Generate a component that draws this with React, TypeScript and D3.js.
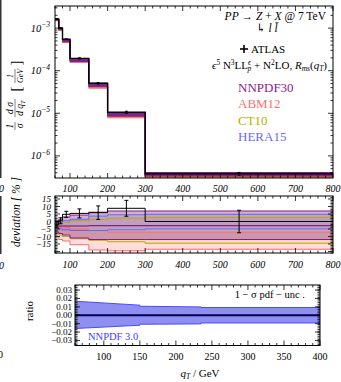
import React from 'react';
import * as d3 from 'd3';

// ATLAS Z pT bins (GeV)
const binEdges = [60, 70, 80, 100, 150, 200, 300, 800];
const atlasXsec = [1.62e-3, 1.0e-3, 5.5e-4, 1.95e-4, 5.07e-5, 1.06e-5, 3.8e-7];
const atlasDev = [-2.3, 0.5, 4.8, 5.4, 5.9, 8.8, 0];
const atlasErr = [2, 2, 2, 3, 4.5, 5.3, 7.5];

// pdf bands, deviation in %
const nnpdfLo = [-7, -8, -9, -11, -12, -12, -12];
const nnpdfHi = [0.5, 1.5, 3, 4.3, 6.2, 7, 7];
const nnpdfMid = [-3, -3, -3, -3, -2.8, -2.8, -2.8];
const heraLo = [-4.5, -5, -5.5, -6, -6, -5.5, -5];
const heraHi = [-1, -0.5, 0.5, 1.5, 3.6, 4.5, 4.8];
const ct10Lo = [-8, -9, -10, -11.5, -12.5, -13.5, -14.5];
const ct10Hi = [-1.5, -1, -0.5, 0.5, 1.5, 2.3, 2.8];
const abmLo = [-10, -12, -13, -15.5, -19, -19.5, -18.5];
const abmHi = [-3, -3.5, -4, -5, -6, -7, -7];

// 1-sigma pdf uncertainty (NNPDF 3.0)
const uncQ = [60, 150, 150, 235, 235, 400];
const uncUp = [0.0167, 0.0120, 0.0107, 0.0099, 0.0092, 0.0092];
const uncDn = [-0.0158, -0.0119, -0.0107, -0.0103, -0.0092, -0.0092];

const devTicks = [15, 10, 5, 0, -5, -10, -15];
const ratioTicks = [0.03, 0.02, 0.01, 0, -0.01, -0.02, -0.03];

const pdfSets = [
  { name: 'ABM12', lo: abmLo, hi: abmHi, stroke: '#ff6a6a', fill: 'rgba(255,120,120,0.25)', topFill: 'rgba(255,110,110,0.8)' },
  { name: 'CT10', lo: ct10Lo, hi: ct10Hi, stroke: '#b8a800', fill: 'rgba(190,175,0,0.12)', topFill: 'rgba(190,175,0,0.6)' },
  { name: 'HERA15', lo: heraLo, hi: heraHi, stroke: '#6464ff', fill: 'rgba(90,90,255,0.12)', topFill: 'rgba(90,90,255,0.6)' },
  { name: 'NNPDF30', lo: nnpdfLo, hi: nnpdfHi, stroke: '#8a1a8a', fill: 'rgba(125,40,125,0.36)', topFill: 'rgba(125,20,135,0.85)' },
];
const legendColors = ['#8b1a8b', '#ff7070', '#b8b000', '#6a6aff'];
const legendNames = ['NNPDF30', 'ABM12', 'CT10', 'HERA15'];

const serif = '"Liberation Serif", "DejaVu Serif", serif';

const App = () => {
  const W = 341, H = 382;
  const x = d3.scaleLinear().domain([60, 800]).range([55, 333]);
  const y = d3.scaleLog().domain([Math.pow(10, -6.52), Math.pow(10, -2.48)]).range([178, 6]);
  const yd = d3.scaleLinear().domain([-21, 17]).range([253, 196]);
  const xr = d3.scaleLinear().domain([60, 400]).range([75, 320]);
  const yr = d3.scaleLinear().domain([-0.036, 0.036]).range([345.5, 285]);

  const n = atlasXsec.length;
  const idx = (i: number) => Math.min(i, n - 1);
  const ref = atlasXsec.map((v, i) => v / (1 + atlasDev[i] / 100));

  const bandPts = (lo: number[], hi: number[]) =>
    binEdges.map((e, i) => ({ q: e, lo: lo[idx(i)], hi: hi[idx(i)], r: ref[idx(i)] }));
  const stepPts = (vals: number[]) => binEdges.map((e, i) => ({ q: e, v: vals[idx(i)] }));

  const topArea = d3.area<any>().x(d => x(d.q)).y0(d => y(d.r * (1 + d.lo / 100))).y1(d => y(d.r * (1 + d.hi / 100))).curve(d3.curveStepAfter);
  const topLo = d3.line<any>().x(d => x(d.q)).y(d => y(d.r * (1 + d.lo / 100))).curve(d3.curveStepAfter);
  const topHi = d3.line<any>().x(d => x(d.q)).y(d => y(d.r * (1 + d.hi / 100))).curve(d3.curveStepAfter);
  const topData = d3.line<any>().x(d => x(d.q)).y(d => y(d.v)).curve(d3.curveStepAfter);

  const devArea = d3.area<any>().x(d => x(d.q)).y0(d => yd(d.lo)).y1(d => yd(d.hi)).curve(d3.curveStepAfter);
  const devLo = d3.line<any>().x(d => x(d.q)).y(d => yd(d.lo)).curve(d3.curveStepAfter);
  const devHi = d3.line<any>().x(d => x(d.q)).y(d => yd(d.hi)).curve(d3.curveStepAfter);
  const devStep = d3.line<any>().x(d => x(d.q)).y(d => yd(d.v)).curve(d3.curveStepAfter);

  const uncPts = uncQ.map((q, i) => ({ q, up: uncUp[i], dn: uncDn[i] }));
  const uncArea = d3.area<any>().x(d => xr(d.q)).y0(d => yr(d.dn)).y1(d => yr(d.up));
  const uncUpLine = d3.line<any>().x(d => xr(d.q)).y(d => yr(d.up));
  const uncDnLine = d3.line<any>().x(d => xr(d.q)).y(d => yr(d.dn));

  const binCenters = atlasXsec.map((_, i) => (binEdges[i] + binEdges[i + 1]) / 2);

  // frame ticks on all four sides, pointing inwards
  const xTicks = (sc: any, top: number, bottom: number, major: number[], minor: number[], key: string) => (
    <g key={key} stroke="#000" strokeWidth={0.8}>
      {major.map(t => (
        <g key={'M' + t}>
          <line x1={sc(t)} x2={sc(t)} y1={bottom} y2={bottom - 5} />
          <line x1={sc(t)} x2={sc(t)} y1={top} y2={top + 5} />
        </g>
      ))}
      {minor.map(t => (
        <g key={'m' + t}>
          <line x1={sc(t)} x2={sc(t)} y1={bottom} y2={bottom - 2.5} />
          <line x1={sc(t)} x2={sc(t)} y1={top} y2={top + 2.5} />
        </g>
      ))}
    </g>
  );
  const yTicks = (sc: any, left: number, right: number, major: number[], minor: number[], key: string) => (
    <g key={key} stroke="#000" strokeWidth={0.8}>
      {major.map(t => (
        <g key={'M' + t}>
          <line x1={left} x2={left + 5} y1={sc(t)} y2={sc(t)} />
          <line x1={right} x2={right - 5} y1={sc(t)} y2={sc(t)} />
        </g>
      ))}
      {minor.map(t => (
        <g key={'m' + t}>
          <line x1={left} x2={left + 2.5} y1={sc(t)} y2={sc(t)} />
          <line x1={right} x2={right - 2.5} y1={sc(t)} y2={sc(t)} />
        </g>
      ))}
    </g>
  );

  const xMajor = d3.range(100, 801, 100);
  const xMinor = d3.range(60, 801, 20).filter(t => t % 100 !== 0);
  const logMajor = [1e-6, 1e-5, 1e-4, 1e-3];
  const logMinor: number[] = [];
  [-7, -6, -5, -4, -3].forEach(e => d3.range(2, 10).forEach(k => {
    const v = k * Math.pow(10, e);
    if (v > y.domain()[0] && v < y.domain()[1]) logMinor.push(v);
  }));
  const devMajor = d3.range(-20, 16, 5);
  const devMinor = d3.range(-21, 17, 1).filter(t => t % 5 !== 0);
  const rMajorX = d3.range(100, 401, 50);
  const rMinorX = d3.range(60, 401, 10).filter(t => t % 50 !== 0);
  const rMinorY = d3.range(-35, 36, 2).map(v => v / 1000).filter(v => Math.abs(Math.round(v * 1000) % 10) !== 0);

  const fmtDev = (v: number) => (v < 0 ? '\u2212' + Math.abs(v) : String(v));
  const fmtR = (v: number) => (v < 0 ? '\u2212' + Math.abs(v).toFixed(2) : v.toFixed(2));

  return (
    <svg width={W} height={H} style={{ position: 'absolute', left: 0, top: 0, background: '#fff' }} fontFamily={serif}>
      <defs>
        <clipPath id="cTop"><rect x={55} y={6} width={278} height={172} /></clipPath>
        <clipPath id="cDev"><rect x={55} y={196} width={278} height={57} /></clipPath>
        <clipPath id="cR"><rect x={75} y={285} width={245} height={60.5} /></clipPath>
      </defs>

      {/* edge of neighbouring figure */}
      <rect x={0} y={0} width={1.5} height={178} fill="#333" />
      <rect x={0} y={196} width={1.5} height={58} fill="#333" />
      <text x={-1} y={192} fontSize={10} fontStyle="italic">0</text>
      <text x={-1} y={269} fontSize={10} fontStyle="italic">0</text>
      <text x={-2} y={358} fontSize={10}>0</text>

      {/* ===== top panel ===== */}
      <g clipPath="url(#cTop)">
        {pdfSets.map(p => {
          const pts = bandPts(p.lo, p.hi);
          return (
            <g key={p.name}>
              <path d={topArea(pts) || ''} fill={p.topFill} stroke="none" />
              <path d={topLo(pts) || ''} fill="none" stroke={p.stroke} strokeWidth={1} />
              <path d={topHi(pts) || ''} fill="none" stroke={p.stroke} strokeWidth={1} />
            </g>
          );
        })}
        <path d={topData(stepPts(atlasXsec)) || ''} fill="none" stroke="#000" strokeWidth={1.4} />
        {binCenters.map((c, i) => {
          const e = atlasXsec[i] * atlasErr[i] / 100;
          return (
            <g key={i} stroke="#000" strokeWidth={1}>
              <line x1={x(c)} x2={x(c)} y1={y(atlasXsec[i] + e)} y2={y(atlasXsec[i] - e)} />
              <line x1={x(c) - 1.5} x2={x(c) + 1.5} y1={y(atlasXsec[i] + e)} y2={y(atlasXsec[i] + e)} />
              <line x1={x(c) - 1.5} x2={x(c) + 1.5} y1={y(atlasXsec[i] - e)} y2={y(atlasXsec[i] - e)} />
            </g>
          );
        })}
      </g>
      <rect x={55} y={6} width={278} height={172} fill="none" stroke="#000" strokeWidth={1} />
      {xTicks(x, 6, 178, xMajor, xMinor, 'tx')}
      {yTicks(y, 55, 333, logMajor, logMinor, 'ty')}
      {xMajor.map(t => (
        <text key={t} x={x(t)} y={192} fontSize={10} fontStyle="italic" textAnchor="middle">{t}</text>
      ))}
      {logMajor.map(t => (
        <text key={t} x={50} y={y(t) + 3.5} fontSize={10.5} fontStyle="italic" textAnchor="end">
          10<tspan dy={-4.5} fontSize={7.5}>{'\u2212' + Math.round(-Math.log10(t))}</tspan>
        </text>
      ))}
      {/* y label */}
      <g transform="translate(16,95) rotate(-90)" fontStyle="italic" fontSize={9.5} textAnchor="middle">
        <text x={-31} y={-3}>1</text>
        <line x1={-35} x2={-27} y1={-1} y2={-1} stroke="#000" strokeWidth={0.5} />
        <text x={-31} y={7}>σ</text>
        <text x={-13} y={-3}>d σ</text>
        <line x1={-22} x2={-4} y1={-1} y2={-1} stroke="#000" strokeWidth={0.5} />
        <text x={-13} y={7}>d q<tspan fontSize={6.5} dy={1.5}>T</tspan></text>
        <text x={6} y={5} fontSize={15} fontStyle="normal">[</text>
        <text x={19} y={-3} fontSize={8}>1</text>
        <line x1={12} x2={26} y1={-1} y2={-1} stroke="#000" strokeWidth={0.5} />
        <text x={19} y={7} fontSize={8}>GeV</text>
        <text x={32} y={5} fontSize={15} fontStyle="normal">]</text>
      </g>

      {/* legend text */}
      <text x={326} y={20} fontSize={11.5} textAnchor="end">
        <tspan fontStyle="italic">PP</tspan> → <tspan fontStyle="italic">Z</tspan> + <tspan fontStyle="italic">X</tspan> @ 7 TeV
      </text>
      <text x={256} y={32} fontSize={11.5}>↳ <tspan fontStyle="italic">l l̄</tspan></text>
      <g stroke="#000" strokeWidth={1.6}>
        <line x1={240} x2={248} y1={49} y2={49} />
        <line x1={244} x2={244} y1={45} y2={53} />
      </g>
      <text x={251} y={53} fontSize={11}>ATLAS</text>
      <text x={327} y={69} fontSize={11} textAnchor="end">
        <tspan fontStyle="italic">ϵ</tspan><tspan dy={-4.5} fontSize={7.5}>5</tspan>
        <tspan dy={4.5}> N</tspan><tspan dy={-4.5} fontSize={7.5}>3</tspan>
        <tspan dy={4.5}>LL</tspan><tspan dy={-4.5} fontSize={7.5} fontStyle="italic">ϵ</tspan>
        <tspan dy={6.5} dx={-3.5} fontSize={7.5} fontStyle="italic">p</tspan>
        <tspan dy={-2}> + N</tspan><tspan dy={-4.5} fontSize={7.5}>2</tspan>
        <tspan dy={4.5}>LO, </tspan><tspan fontStyle="italic">R</tspan>
        <tspan dy={2} fontSize={7.5} fontStyle="italic">ms</tspan>
        <tspan dy={-2}>(</tspan><tspan fontStyle="italic">q</tspan>
        <tspan dy={2} fontSize={7.5} fontStyle="italic">T</tspan><tspan dy={-2}>)</tspan>
      </text>
      {legendNames.map((nm, i) => (
        <text key={nm} x={238} y={92 + i * 16.3} fontSize={13} fill={legendColors[i]}>{nm}</text>
      ))}

      {/* ===== deviation panel ===== */}
      <g clipPath="url(#cDev)">
        {pdfSets.map(p => (
          <path key={p.name} d={devArea(bandPts(p.lo, p.hi)) || ''} fill={p.fill} stroke="none" />
        ))}
        {pdfSets.map(p => (
          <g key={p.name + 'l'}>
            <path d={devLo(bandPts(p.lo, p.hi)) || ''} fill="none" stroke={p.stroke} strokeWidth={1} />
            <path d={devHi(bandPts(p.lo, p.hi)) || ''} fill="none" stroke={p.stroke} strokeWidth={1} />
          </g>
        ))}
        <path d={devStep(stepPts(nnpdfMid)) || ''} fill="none" stroke="#6a0a6a" strokeWidth={1} />
        <path d={devStep(stepPts(atlasDev)) || ''} fill="none" stroke="#000" strokeWidth={1} />
        {binCenters.map((c, i) => (
          <g key={i} stroke="#000" strokeWidth={1}>
            <line x1={x(c)} x2={x(c)} y1={yd(atlasDev[i] + atlasErr[i])} y2={yd(atlasDev[i] - atlasErr[i])} />
            <line x1={x(c) - 2} x2={x(c) + 2} y1={yd(atlasDev[i] + atlasErr[i])} y2={yd(atlasDev[i] + atlasErr[i])} />
            <line x1={x(c) - 2} x2={x(c) + 2} y1={yd(atlasDev[i] - atlasErr[i])} y2={yd(atlasDev[i] - atlasErr[i])} />
          </g>
        ))}
      </g>
      <rect x={55} y={196} width={278} height={57} fill="none" stroke="#000" strokeWidth={1} />
      {xTicks(x, 196, 253, xMajor, xMinor, 'dx')}
      {yTicks(yd, 55, 333, devMajor, devMinor, 'dy')}
      {xMajor.map(t => (
        <text key={t} x={x(t)} y={268} fontSize={10} fontStyle="italic" textAnchor="middle">{t}</text>
      ))}
      {devTicks.map(t => (
        <text key={t} x={51} y={yd(t) + 3} fontSize={9} fontStyle="italic" textAnchor="end">{fmtDev(t)}</text>
      ))}
      <text transform="translate(20,212) rotate(-90)" fontSize={11.5} fontStyle="italic" textAnchor="middle">deviation  [ % ]</text>

      {/* ===== ratio panel ===== */}
      <g clipPath="url(#cR)">
        <path d={uncArea(uncPts) || ''} fill="#8f8ff2" stroke="none" />
        <path d={uncUpLine(uncPts) || ''} fill="none" stroke="#4a4aff" strokeWidth={1} />
        <path d={uncDnLine(uncPts) || ''} fill="none" stroke="#4a4aff" strokeWidth={1} />
        <line x1={xr(60)} x2={xr(400)} y1={yr(0)} y2={yr(0)} stroke="#000050" strokeWidth={2} />
      </g>
      <rect x={75} y={285} width={245} height={60.5} fill="none" stroke="#000" strokeWidth={1} />
      {xTicks(xr, 285, 345.5, rMajorX, rMinorX, 'rx')}
      {yTicks(yr, 75, 320, ratioTicks, rMinorY, 'ry')}
      {rMajorX.map(t => (
        <text key={t} x={xr(t)} y={360} fontSize={10} textAnchor="middle">{t}</text>
      ))}
      {ratioTicks.map(t => (
        <text key={t} x={72} y={yr(t) + 3} fontSize={9} textAnchor="end">{fmtR(t)}</text>
      ))}
      <text transform="translate(33,311) rotate(-90)" fontSize={11} textAnchor="middle">ratio</text>
      <text x={305} y={298} fontSize={10.5} textAnchor="end">1 − σ  pdf − unc .</text>
      <text x={88} y={340} fontSize={10.5} fill="#3c3cff">NNPDF 3.0</text>
      <text x={200} y={377} fontSize={11} textAnchor="middle">
        <tspan fontStyle="italic">q</tspan><tspan dy={2} fontSize={7.5} fontStyle="italic">T</tspan><tspan dy={-2}> / GeV</tspan>
      </text>
    </svg>
  );
};

export default App;
